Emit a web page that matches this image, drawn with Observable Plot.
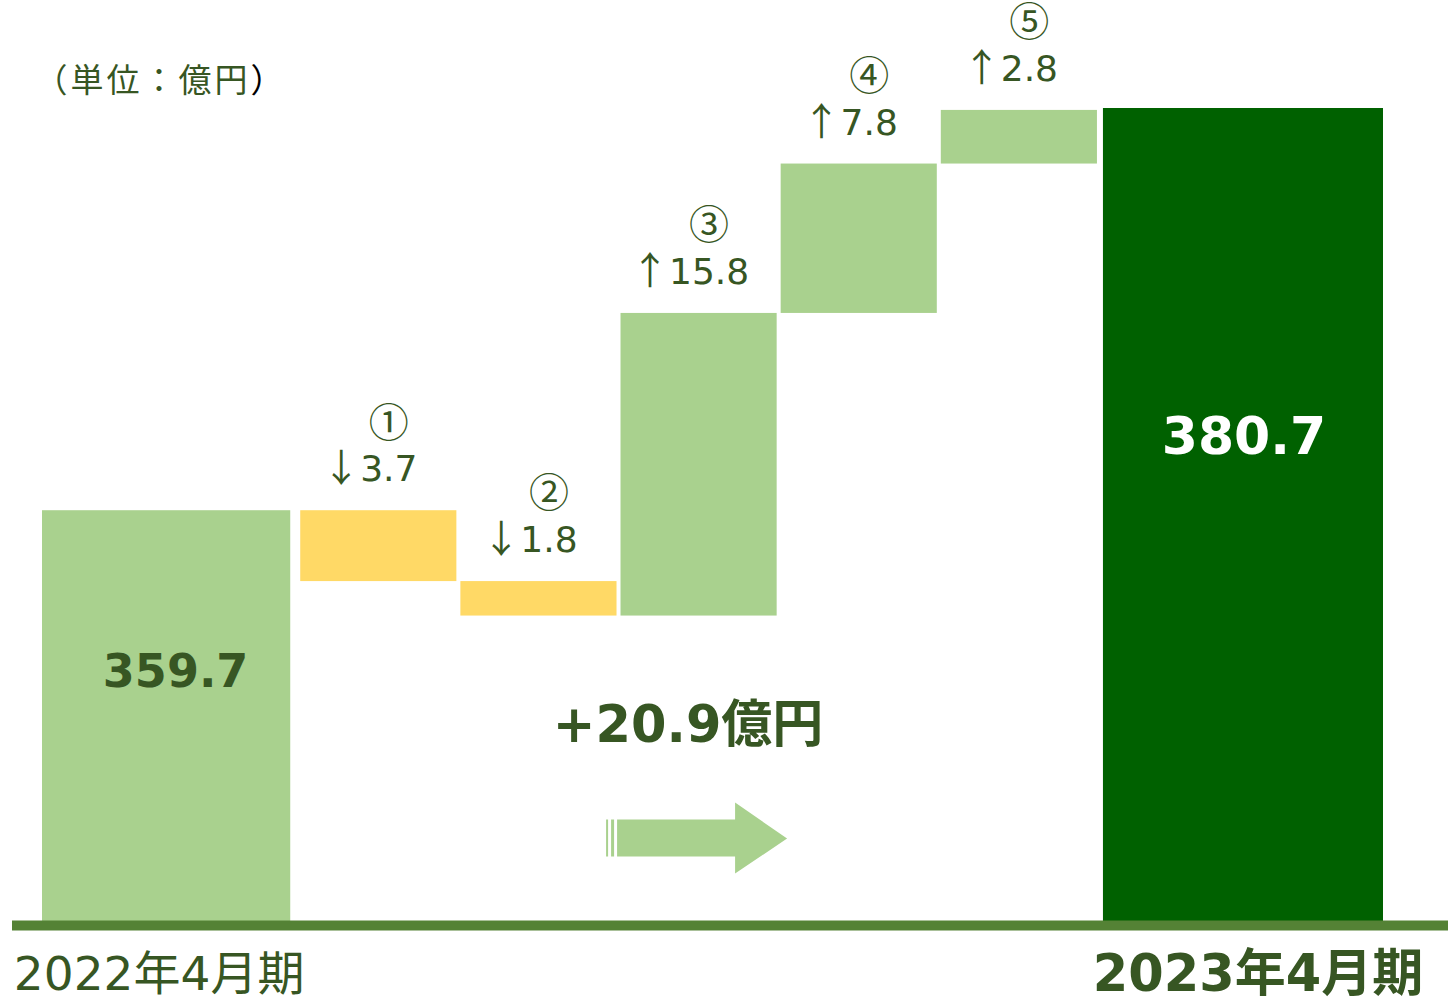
<!DOCTYPE html>
<html><head><meta charset="utf-8">
<script src="https://cdn.jsdelivr.net/npm/d3@7"></script>
<script src="https://cdn.jsdelivr.net/npm/@observablehq/plot@0.6"></script>
<style>
  html, body { margin: 0; padding: 0; background: #fff; }
  #chart { width: 1448px; height: 998px; overflow: hidden; }
</style>
</head><body><div id="chart"></div>
<script>
// ---------- data ----------
const periods = ["2022年4月期", "2023年4月期"];
const totals = [359.7, 380.7];
const stepMarks = ["①", "②", "③", "④", "⑤"];
const stepValues = [-3.7, -1.8, 15.8, 7.8, 2.8];
const unitLabel = "（単位：億円）";
const changeUnit = "億円";
const axisFloor = 338.2;   // truncated value axis starts here

// ---------- style / layout ----------
const slotWidths = [1.6, 1, 1, 1, 1, 1, 1.78]; // relative widths of the seven bars
const LIGHT = "#A9D18E", YELLOW = "#FFD966", DARK = "#006100", TEXT = "#375623", BASE = "#548235";
const NUM = "'DejaVu Sans', 'Noto Sans CJK JP', sans-serif";
const CJK = "'Noto Sans CJK JP', sans-serif";

// slot positions (in layout units)
const starts = [];
slotWidths.reduce((acc, w) => { starts.push(acc); return acc + w; }, 0);
const totalUnits = d3.sum(slotWidths);
const slot = i => ({x1: starts[i], x2: starts[i] + slotWidths[i], xm: starts[i] + slotWidths[i] / 2});

const totalRows = totals.map((v, k) => {
  const i = k === 0 ? 0 : slotWidths.length - 1;
  return {label: periods[k], value: v, ...slot(i)};
});

let running = totals[0];
const stepRows = stepValues.map((v, j) => {
  const s = slot(j + 1);
  const row = {mark: stepMarks[j], v, y1: running, y2: running + v, top: Math.max(running, running + v), ...s};
  running += v;
  return row;
});
const change = d3.sum(stepValues);

// block-arrow symbol (shape only, centred on its anchor)
const blockArrow = {
  draw(ctx) {
    ctx.moveTo(-90, -19); ctx.lineTo(-88, -19); ctx.lineTo(-88, 18); ctx.lineTo(-90, 18); ctx.closePath();
    ctx.moveTo(-85, -19); ctx.lineTo(-82, -19); ctx.lineTo(-82, 18); ctx.lineTo(-85, 18); ctx.closePath();
    ctx.moveTo(-79, -19); ctx.lineTo(39, -19); ctx.lineTo(39, -36); ctx.lineTo(91, 0);
    ctx.lineTo(39, 35); ctx.lineTo(39, 18); ctx.lineTo(-79, 18); ctx.closePath();
  }
};

const chart = Plot.plot({
  width: 1448,
  height: 998,
  marginLeft: 42,
  marginRight: 64,
  marginTop: 108,
  marginBottom: 76,
  style: {background: "#fff", fontFamily: NUM, overflow: "visible"},
  x: {domain: [0, totalUnits], axis: null},
  y: {domain: [axisFloor, totals[1]], axis: null},
  marks: [
    // start total
    Plot.rect([totalRows[0]], {x1: "x1", x2: "x2", y1: () => axisFloor, y2: "value", fill: LIGHT, insetRight: 8}),
    // end total
    Plot.rect([totalRows[1]], {x1: "x1", x2: "x2", y1: () => axisFloor, y2: "value", fill: DARK, insetLeft: 4, insetRight: 1}),
    // steps
    Plot.rect(stepRows, {x1: "x1", x2: "x2", y1: "y1", y2: "y2", fill: d => d.v < 0 ? YELLOW : LIGHT, insetLeft: 2, insetRight: 2}),
    // baseline
    Plot.ruleY([axisFloor], {stroke: BASE, strokeWidth: 10, insetLeft: -30, insetRight: -64, dy: 3}),
    // step value labels
    Plot.text(stepRows, {x: "xm", y: "top", text: d => (d.v < 0 ? "↓" : "↑") + Math.abs(d.v).toFixed(1),
      dx: -9, dy: -41, fontSize: 36, fill: TEXT, fontFamily: NUM}),
    // circled step numbers
    Plot.text(stepRows, {x: "xm", y: "top", text: "mark", dx: 10, dy: -87, fontSize: 40, fill: TEXT, fontFamily: CJK}),
    // total value labels
    Plot.text([totalRows[0]], {x: "xm", y: "value", text: d => d.value.toFixed(1), dx: 5, dy: 162,
      fontSize: 46, fontWeight: "bold", fill: TEXT, fontFamily: NUM}),
    Plot.text([totalRows[1]], {x: "xm", y: "value", text: d => d.value.toFixed(1), dx: 2, dy: 329,
      fontSize: 52, fontWeight: "bold", fill: "#fff", fontFamily: NUM}),
    // overall change
    Plot.text([change], {x: () => stepRows[2].xm, y: () => axisFloor, text: d => "+" + d.toFixed(1) + changeUnit,
      dx: -11, dy: -197, fontSize: 51, fontWeight: "bold", fill: TEXT, fontFamily: NUM}),
    Plot.dot([change], {x: () => stepRows[2].xm, y: () => axisFloor, symbol: blockArrow, r: 10,
      fill: LIGHT, stroke: "none", dx: -3, dy: -84}),
    // period labels
    Plot.text([totalRows[0]], {x: "xm", y: () => axisFloor, text: "label", dx: -11.5, dy: 52,
      fontSize: 47, fill: TEXT, fontFamily: NUM}),
    Plot.text([totalRows[1]], {x: "xm", y: () => axisFloor, text: "label", dx: 16, dy: 52,
      fontSize: 51, fontWeight: "bold", fill: TEXT, fontFamily: NUM}),
    // unit label
    Plot.text([unitLabel], {frameAnchor: "top-left", text: d => d, textAnchor: "start", dx: -8, dy: -40,
      fontSize: 33, fill: TEXT, fontFamily: CJK})
  ]
});

document.getElementById("chart").appendChild(chart);

const SVGNS = "http://www.w3.org/2000/svg";
chart.querySelectorAll("text").forEach(t => {
  const s = t.textContent;
  // unit label: spacing and black closing bracket as in the source
  if (s === unitLabel) {
    t.style.letterSpacing = "3px";
    t.textContent = "";
    const a = document.createElementNS(SVGNS, "tspan"); a.textContent = s.slice(0, -1);
    const b = document.createElementNS(SVGNS, "tspan"); b.textContent = s.slice(-1); b.setAttribute("fill", "#000");
    t.append(a, b);
  }
  // step labels: tall thin arrow glyph
  else if (s.startsWith("↓") || s.startsWith("↑")) {
    t.textContent = "";
    const a = document.createElementNS(SVGNS, "tspan"); a.textContent = s[0];
    a.setAttribute("font-family", CJK); a.setAttribute("font-size", "38");
    const b = document.createElementNS(SVGNS, "tspan"); b.textContent = s.slice(1);
    t.append(a, b);
  }
});
</script>
</body></html>
